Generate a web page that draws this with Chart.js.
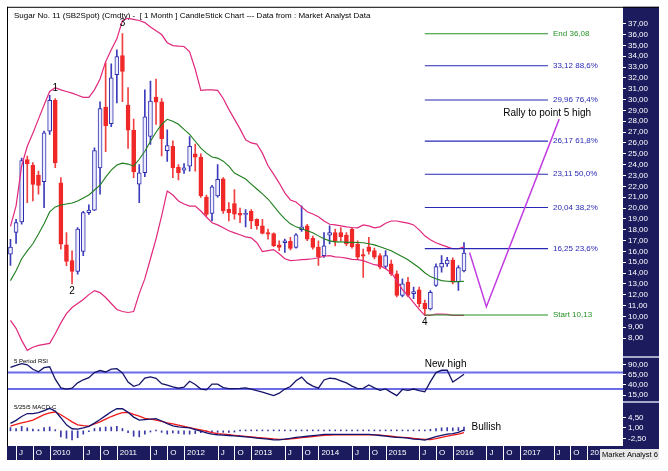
<!DOCTYPE html>
<html><head><meta charset="utf-8">
<script src="https://cdn.jsdelivr.net/npm/chart.js@4.4.1/dist/chart.umd.min.js"></script>
<style>html,body{margin:0;padding:0;background:#fff;}canvas{display:block;}</style>
</head><body>
<canvas id="c" width="668" height="471"></canvas>
<script>
// ---------- DATA ----------
const months = ['2009-06','2009-07','2009-08','2009-09','2009-10','2009-11','2009-12',
'2010-01','2010-02','2010-03','2010-04','2010-05','2010-06','2010-07','2010-08','2010-09','2010-10','2010-11','2010-12',
'2011-01','2011-02','2011-03','2011-04','2011-05','2011-06','2011-07','2011-08','2011-09','2011-10','2011-11','2011-12',
'2012-01','2012-02','2012-03','2012-04','2012-05','2012-06','2012-07','2012-08','2012-09','2012-10','2012-11','2012-12',
'2013-01','2013-02','2013-03','2013-04','2013-05','2013-06','2013-07','2013-08','2013-09','2013-10','2013-11','2013-12',
'2014-01','2014-02','2014-03','2014-04','2014-05','2014-06','2014-07','2014-08','2014-09','2014-10','2014-11','2014-12',
'2015-01','2015-02','2015-03','2015-04','2015-05','2015-06','2015-07','2015-08','2015-09','2015-10','2015-11','2015-12',
'2016-01','2016-02','2016-03'];

const open = [15.75,17.74,18.72,24.47,23.93,23.04,22.43,
27.08,29.93,22.33,16.6,15.14,14.16,16.0,19.58,19.8,23.7,29.3,27.77,
32.3,34.06,29.5,27.17,22.2,23.25,26.6,30.23,29.8,25.3,25.7,23.76,
23.5,23.87,25.0,24.7,21.0,19.5,21.12,22.7,19.88,20.4,19.5,19.4,
19.7,18.95,18.36,17.74,17.65,16.6,16.8,16.92,16.37,18.0,18.36,17.2,
16.4,15.6,17.5,17.74,17.74,17.5,18.05,16.68,15.7,16.43,16.07,15.6,
14.6,14.85,13.93,11.94,13.16,12.1,12.45,11.2,10.7,12.85,14.54,14.85,
15.2,13.2,14.2];
const high = [17.1,18.96,24.6,24.8,24.2,23.4,27.1,
30.4,30.1,22.8,17.74,16.06,18.2,19.7,20.3,25.55,29.8,33.4,33.3,
34.6,36.08,31.1,28.2,24.0,30.9,31.7,31.9,30.1,27.2,26.2,24.0,
24.1,26.6,25.9,25.0,21.2,22.1,24.0,22.8,20.5,21.7,20.0,19.85,
19.85,19.0,18.95,18.05,17.7,16.98,17.13,17.3,17.65,20.2,18.5,17.4,
16.98,17.74,18.36,18.05,18.2,17.74,18.2,16.98,16.2,17.3,16.3,15.8,
16.07,15.2,14.2,13.47,13.6,12.7,12.7,11.5,12.38,14.85,15.6,15.46,
15.4,14.7,16.8];
const low = [14.7,16.73,18.5,20.5,20.65,21.27,20.04,
26.78,23.71,16.2,14.68,13.0,13.9,15.6,19.4,19.75,21.28,25.2,27.5,
29.7,29.8,25.5,22.8,20.5,22.9,25.86,27.7,24.8,24.3,22.8,22.6,
23.2,23.4,23.4,20.97,19.25,18.8,21.0,19.5,18.8,18.96,18.65,18.25,
18.1,18.05,17.6,17.13,16.43,16.07,15.9,16.13,16.3,17.85,16.98,16.2,
14.7,15.44,16.68,16.5,16.98,16.52,16.3,15.3,13.6,15.75,15.3,14.39,
14.4,13.78,11.8,11.8,11.8,11.64,10.87,10.13,10.6,12.76,14.08,14.6,
13.0,12.4,14.1];
const close = [16.4,18.66,24.38,24.07,22.18,22.09,26.93,
29.93,24.17,16.67,15.08,14.16,18.05,19.58,19.8,25.3,29.16,27.6,32.0,
33.97,32.6,27.17,23.34,23.25,28.4,29.86,29.77,26.4,25.76,23.7,23.25,
23.7,25.7,24.7,21.12,19.4,21.95,22.65,19.73,19.57,19.42,19.35,19.5,
18.8,18.36,17.65,17.58,16.52,16.37,16.98,16.28,17.53,18.27,17.13,16.37,
15.5,16.52,17.74,16.98,17.35,16.68,16.43,15.46,15.56,16.0,15.46,14.54,
15.6,13.93,11.94,13.0,11.94,12.3,11.17,10.7,12.23,14.6,14.9,15.2,
13.16,14.5,15.85];

const maLine = [13.3,14.22,15.32,16.05,16.7,17.6,18.54,
19.64,20.1,20.28,20.37,20.46,20.65,20.92,21.2,21.66,22.1,22.85,23.5,
23.96,24.14,24.05,23.86,24.5,25.24,26.16,26.99,27.72,28.18,28.0,27.72,
27.26,26.8,26.16,25.52,25.06,24.7,24.6,24.32,23.86,23.22,22.95,22.67,
22.21,21.75,21.3,20.83,20.2,19.55,19.0,18.54,18.26,18.08,17.9,17.71,
17.43,17.16,16.97,16.88,16.88,16.83,16.83,16.82,16.79,16.7,16.6,16.42,
16.24,16.05,15.78,15.5,15.23,14.86,14.49,14.03,13.67,13.48,13.3,13.25,
13.21,13.21,13.25];
const bbUpper = [18.3,20.2,23.9,25.7,26.9,28.2,29.5,
30.75,31.1,30.9,30.75,30.6,30.4,30.2,30.2,30.9,31.9,33.5,34.6,
35.6,37.3,37.5,37.4,37.3,37.1,36.7,36.36,36.0,35.25,34.98,34.93,
34.9,34.4,32.8,30.85,30.9,30.9,30.85,30.1,29.1,28.2,27.3,26.3,
26.0,25.9,25.06,23.9,23.13,22.3,21.4,20.74,20.56,20.1,19.65,19.45,
19.2,18.8,18.5,18.44,18.35,18.26,18.2,18.17,18.44,18.35,18.17,18.26,
18.6,18.8,18.8,18.7,18.6,18.44,17.98,17.43,17.07,16.8,16.6,16.42,
16.24,16.24,16.42];
const bbLower = [9.63,8.9,7.79,6.87,7.15,7.33,7.42,
7.51,8.4,9.4,10.25,10.82,11.19,11.56,12.01,12.38,12.2,11.74,11.19,
10.64,10.45,10.36,10.45,12.1,13.48,15.32,17.16,19.27,21.57,21.2,20.65,
20.37,20.18,20.18,19.72,19.17,18.63,18.44,18.17,17.9,17.71,17.53,17.34,
17.25,16.8,15.98,16.07,16.16,15.78,15.32,15.14,15.18,15.23,15.27,15.32,
15.41,15.55,15.6,15.5,15.46,15.37,15.27,15.23,15.14,14.95,14.77,14.68,
14.4,14.03,13.3,12.47,11.92,11.28,10.64,10.1,10.1,10.22,10.22,10.18,
10.1,10.1,10.1];

const rsi = [82.8,87.5,91.5,89,78,72,82,
84,54,33,30,32,45,52.5,57.5,70,75,71.5,78.5,
79.5,69,47,36.6,41,56.5,59.3,56,43,39.5,35,32,
34.5,49,41,30,28,42,42,33.5,31,31,31.5,33,
30,26,22.5,18.5,14,20,30,36,50,59,45,37,
32,52,56.5,55,50,45,37,31,31.5,40,33,27,
30.5,22,14,29,27,30,26,23.5,48,70,75.6,75.6,
47,56,66];
const macd = [2.5,3.5,4.8,5.8,5.8,6.1,6.8,
7.5,6.6,4.4,2.0,0.7,0.6,1.0,1.5,2.6,3.8,5.1,6.4,
7.4,7.4,6.2,4.6,3.6,3.75,3.9,4.1,3.3,2.4,1.7,1.3,
1.15,1.0,0.45,-0.1,-0.65,-1.1,-1.3,-1.4,-1.55,-1.7,-1.8,-2.0,
-2.2,-2.4,-2.6,-2.8,-3.0,-3.05,-2.8,-2.5,-2.2,-2.0,-1.8,-1.6,
-1.4,-1.2,-1.2,-1.2,-1.2,-1.2,-1.2,-1.2,-1.2,-1.2,-1.35,-1.55,
-1.75,-2.0,-2.15,-2.3,-2.45,-2.75,-2.85,-3.1,-2.5,-1.9,-1.5,-1.1,
-0.95,-0.5,0.3];
const macdSignal = [1.6,2.2,2.7,3.1,3.6,4.5,5.4,
6.0,6.3,5.4,4.2,3.0,2.0,1.75,1.6,2.3,3.0,3.9,4.8,
5.5,6.1,6.2,5.5,4.9,4.2,3.9,3.6,3.2,2.7,2.3,1.9,
1.5,1.1,0.7,0.3,-0.1,-0.6,-0.9,-1.1,-1.3,-1.5,-1.7,-1.85,
-2.0,-2.2,-2.35,-2.5,-2.7,-2.85,-2.85,-2.7,-2.5,-2.3,-2.1,-1.9,
-1.7,-1.5,-1.4,-1.3,-1.3,-1.3,-1.3,-1.3,-1.3,-1.3,-1.35,-1.45,
-1.6,-1.8,-2.0,-2.15,-2.3,-2.5,-2.7,-2.85,-2.9,-2.6,-2.2,-1.8,
-1.45,-1.1,-0.6];
const macdHist = [1.1,0.8,1.5,1.0,0.6,0.4,1.1,
1.3,0.4,-2.0,-2.5,-3.0,-2.3,-1.1,-0.3,0.8,1.1,1.3,1.3,
1.5,0.8,-0.6,-1.8,-2.0,-1.1,-0.4,0.3,-0.5,-1.1,-0.7,-0.9,
-1.1,-1.1,-0.9,-0.6,-0.5,-0.6,-0.5,-0.5,-0.5,-0.4,0.3,0.3,
0.3,0.3,0.3,0.3,0.3,0.3,0.3,0.3,0.3,0.3,0.3,0.3,
0.3,0.3,0.3,0.3,0.3,0.3,0.3,0.3,0.3,0.3,0.3,0.3,
0.3,0.3,0.3,0.3,0.3,0.3,0.3,0.3,0.5,0.8,1.0,1.1,
1.0,1.1,1.3];

const priceTicks = [8,9,10,11,12,13,14,15,16,17,18,19,20,21,22,23,24,25,26,27,28,29,30,31,32,33,34,35,36,37];
const rsiTicks = [90,65,40,15];
const rsiBands = [70,30];
const macdTicks = [4.5,1,-2.5];
const xTickMonths = ['2009-07','2009-10','2010-01','2010-07','2010-10','2011-01','2011-07','2011-10','2012-01','2012-07','2012-10',
'2013-01','2013-07','2013-10','2014-01','2014-07','2014-10','2015-01','2015-07','2015-10','2016-01','2016-07','2016-10',
'2017-01','2017-07','2017-10','2018-01'];
const xTickLabels = ['J','O','2010','J','O','2011','J','O','2012','J','O','2013','J','O','2014','J','O','2015','J','O','2016','J','O','2017','J','O','2018'];

const fibValues = [36.08,33.12,29.96,26.17,23.11,20.04,16.25,10.13];
const fibLabels = ['End 36,08','33,12 88,6%','29,96 76,4%','26,17 61,8%','23,11 50,0%','20,04 38,2%','16,25 23,6%','Start 10,13'];
const fibFrom = '2015-08', fibTo = '2017-06';
const projMonths = ['2016-04','2016-07','2017-08'];
const projValues = [15.9,10.9,28.2];
const waveLabels = ['1','2','3','4'];
const waveMonths = ['2010-02','2010-05','2011-02','2015-08'];
const waveAtHigh = [true,false,true,false];
const titleText = 'Sugar No. 11 (SB2Spot) (Cmdty) -  [ 1 Month ] CandleStick Chart --- Data from : Market Analyst Data';

// ---------- CHART ----------
const NAVY = '#1b1b5e';
Chart.defaults.font.family = "'Liberation Sans', Arial, Helvetica, sans-serif";
const mi = m => { const [y, mo] = m.split('-').map(Number); return (y - 2009) * 12 + (mo - 6); };
const xs = months.map(mi);
const up = i => close[i] >= open[i];
const fmt = v => v.toFixed(2).replace('.', ',');
const X_MIN = -0.62, X_MAX = 109.4;
const pts = arr => arr.map((v, i) => ({x: xs[i], y: v}));
const line = (data, color, yAxisID, width, order) => ({type: 'line', data, yAxisID, xAxisID: 'x', borderColor: color,
  borderWidth: width, pointRadius: 0, tension: 0, fill: false, order});

const datasets = [
  {type: 'bar', data: xs.map((x, i) => ({x, y: [low[i], high[i]]})), yAxisID: 'y', xAxisID: 'x', barThickness: 1, grouped: false,
   backgroundColor: c => up(c.dataIndex) ? '#3c3cbc' : '#f04040', order: 20},
  {type: 'bar', data: xs.map((x, i) => ({x, y: [open[i], close[i]]})), yAxisID: 'y', xAxisID: 'x', barThickness: 4, grouped: false,
   backgroundColor: c => up(c.dataIndex) ? '#eeeeff' : '#f02828', borderColor: c => up(c.dataIndex) ? '#2c2cae' : '#f02828',
   borderWidth: 1, borderSkipped: false, order: 19},
  line(pts(bbUpper), '#e0287c', 'y', 1.2, 5),
  line(pts(bbLower), '#e0287c', 'y', 1.2, 5),
  line(pts(maLine), '#1e7e1e', 'y', 1.1, 4),
];
fibValues.forEach((v, k) => {
  const green = k === 0 || k === fibValues.length - 1;
  datasets.push(line([{x: mi(fibFrom), y: v}, {x: mi(fibTo), y: v}], green ? '#249024' : '#2828b4', 'y', 1.1, 3));
});
datasets.push(line(projMonths.map((m, i) => ({x: mi(m), y: projValues[i]})), '#c23ee2', 'y', 1.5, 2));
rsiBands.forEach(v => datasets.push(line([{x: X_MIN, y: v}, {x: X_MAX, y: v}], '#6c6ce8', 'rsi', 2, 6)));
datasets.push(line(pts(rsi), '#14146a', 'rsi', 1.3, 2));
datasets.push({type: 'bar', data: pts(macdHist), yAxisID: 'macd', xAxisID: 'x', barThickness: 1, grouped: false,
  backgroundColor: '#3a3aa8', order: 8});
datasets.push(line(pts(macdSignal), '#f01818', 'macd', 1.3, 3));
datasets.push(line(pts(macd), '#14146e', 'macd', 1.3, 2));

const yCommon = {
  type: 'linear', position: 'right', stack: 'panels', offset: false,
  border: {display: false},
  grid: {display: true, drawOnChartArea: false, drawTicks: true, tickLength: 3, color: '#ffffff', lineWidth: 1},
  ticks: {color: '#ffffff', font: {size: 8}, padding: 2, autoSkip: false, callback: v => fmt(v)},
  afterFit: s => { s.width = 36; }
};

const deco = {
  id: 'deco',
  beforeDraw(chart) {
    const {ctx, chartArea: ca, scales} = chart;
    const r = scales.y.right;
    ctx.save();
    ctx.fillStyle = '#ffffff';
    ctx.fillRect(0, 0, chart.width, chart.height);
    ctx.fillStyle = NAVY;
    ctx.fillRect(ca.right, ca.top, r - ca.right, ca.bottom - ca.top);
    ctx.fillRect(ca.left, ca.bottom, r - ca.left, scales.x.bottom - ca.bottom);
    ctx.restore();
  },
  beforeDatasetsDraw(chart) {
    const {ctx, chartArea: ca, scales} = chart;
    ctx.save();
    ctx.fillStyle = '#000';
    ctx.textBaseline = 'middle';
    ctx.font = "8px 'Liberation Sans', Arial, sans-serif";
    ctx.fillText(titleText, ca.left + 7, ca.top + 9);
    ctx.font = "6px 'Liberation Sans', Arial, sans-serif";
    ctx.fillText('5 Period RSI', ca.left + 7, scales.rsi.top + 4);
    ctx.fillText('5/25/5 MACD-C', ca.left + 7, scales.macd.top + 5);
    ctx.restore();
  },
  afterDraw(chart) {
    const {ctx, chartArea: ca, scales} = chart;
    const xS = scales.x, yS = scales.y, rS = scales.rsi, mS = scales.macd;
    ctx.save();
    // x-axis separators
    ctx.strokeStyle = '#ffffff'; ctx.lineWidth = 1;
    xS.ticks.forEach(t => {
      const px = Math.round(xS.getPixelForValue(t.value)) + 0.5;
      ctx.beginPath(); ctx.moveTo(px, ca.bottom); ctx.lineTo(px, xS.bottom); ctx.stroke();
    });
    // panel separators in axis column
    ctx.strokeStyle = '#a8a8c8'; ctx.lineWidth = 2;
    [rS.top, mS.top].forEach(y => { ctx.beginPath(); ctx.moveTo(ca.right, y); ctx.lineTo(yS.right, y); ctx.stroke(); });
    // borders
    ctx.strokeStyle = '#000'; ctx.lineWidth = 1;
    ctx.beginPath(); ctx.moveTo(ca.left + 0.5, ca.top); ctx.lineTo(ca.left + 0.5, ca.bottom); ctx.stroke();
    ctx.beginPath(); ctx.moveTo(ca.left, ca.top + 0.5); ctx.lineTo(yS.right, ca.top + 0.5); ctx.stroke();
    // fib labels
    ctx.textBaseline = 'middle'; ctx.textAlign = 'left';
    ctx.font = "8px 'Liberation Sans', Arial, sans-serif";
    fibValues.forEach((v, k) => {
      const green = k === 0 || k === fibValues.length - 1;
      ctx.fillStyle = green ? '#249024' : '#2828b4';
      ctx.fillText(fibLabels[k], xS.getPixelForValue(mi(fibTo)) + 5, yS.getPixelForValue(v));
    });
    // wave labels
    ctx.fillStyle = '#000'; ctx.textAlign = 'center';
    ctx.font = "10px 'Liberation Sans', Arial, sans-serif";
    waveLabels.forEach((t, k) => {
      const i = months.indexOf(waveMonths[k]);
      const px = xS.getPixelForValue(mi(waveMonths[k]));
      const py = waveAtHigh[k] ? yS.getPixelForValue(high[i]) - 10 : yS.getPixelForValue(low[i]) + 7;
      ctx.fillText(t, px, py);
    });
    // comments
    ctx.textAlign = 'left';
    ctx.fillText('Rally to point 5 high', xS.getPixelForValue(mi('2016-10')), yS.getPixelForValue(28.76));
    ctx.fillText('New high', xS.getPixelForValue(mi('2015-08')), rS.getPixelForValue(91));
    ctx.fillText('Bullish', xS.getPixelForValue(mi('2016-04')) + 2, mS.getPixelForValue(1.3));
    // Market Analyst box
    const bx = yS.right - 59, by = ca.bottom + 3, bw = 59, bh = 11;
    ctx.fillStyle = '#e8e8e8'; ctx.fillRect(bx, by, bw, bh);
    ctx.save(); ctx.beginPath(); ctx.rect(bx, by, bw, bh); ctx.clip();
    ctx.fillStyle = '#000'; ctx.font = "7.5px 'Liberation Sans', Arial, sans-serif";
    ctx.fillText('Market Analyst 6', bx + 2, by + bh / 2 + 0.5);
    ctx.restore();
    ctx.restore();
  }
};

new Chart(document.getElementById('c'), {
  type: 'line',
  data: {datasets},
  options: {
    responsive: false, animation: false, events: [],
    layout: {padding: {left: 7, top: 5, right: 9, bottom: 11}},
    plugins: {legend: {display: false}, tooltip: {enabled: false}, title: {display: false}},
    scales: {
      x: {type: 'linear', position: 'bottom', min: X_MIN, max: X_MAX, offset: false,
        grid: {display: false, drawTicks: false, tickLength: 0}, border: {display: false},
        afterBuildTicks: s => { s.ticks = xTickMonths.map(m => ({value: mi(m)})); },
        afterFit: s => { s.height = 14; },
        ticks: {color: '#ffffff', font: {size: 8}, align: 'start', labelOffset: 3, padding: 2, autoSkip: false,
          maxRotation: 0, minRotation: 0, callback: (v, i) => xTickLabels[i]}},
      y: Object.assign({}, yCommon, {stackWeight: 351.7, min: 6.25, max: 38.56,
        afterBuildTicks: s => { s.ticks = priceTicks.map(v => ({value: v})); }}),
      rsi: Object.assign({}, yCommon, {stackWeight: 45, min: -1.2, max: 107.7,
        afterBuildTicks: s => { s.ticks = rsiTicks.map(v => ({value: v})); }}),
      macd: Object.assign({}, yCommon, {stackWeight: 44.3, min: -5.07, max: 9.7,
        afterBuildTicks: s => { s.ticks = macdTicks.map(v => ({value: v})); }})
    }
  },
  plugins: [deco]
});
</script>
</body></html>
